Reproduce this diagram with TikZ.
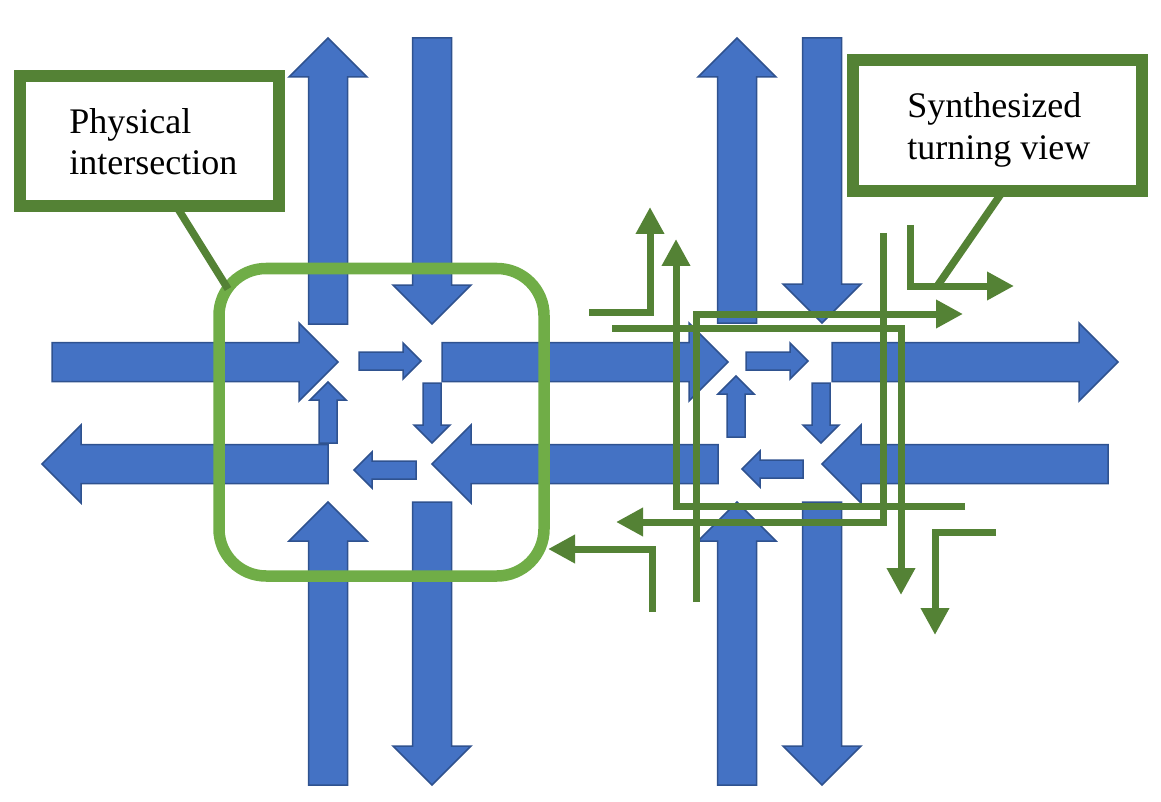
\documentclass[tikz,border=0pt]{standalone}
\usepackage{fontspec}
\setmainfont{Liberation Serif}
\usetikzlibrary{arrows.meta}
\definecolor{blueA}{HTML}{4472C4}
\definecolor{blueB}{HTML}{2F528F}
\definecolor{greenD}{HTML}{548235}
\definecolor{greenL}{HTML}{70AD47}
% block arrows: #1 tail, #2 tip, #3 centre line, #4 half shaft, #5 half head (= head length)
\newcommand\ArR[5]{\filldraw[barrow] (#1,#3-#4) -- (#2-#5,#3-#4) -- (#2-#5,#3-#5) -- (#2,#3) -- (#2-#5,#3+#5) -- (#2-#5,#3+#4) -- (#1,#3+#4) -- cycle;}
\newcommand\ArL[5]{\filldraw[barrow] (#1,#3-#4) -- (#2+#5,#3-#4) -- (#2+#5,#3-#5) -- (#2,#3) -- (#2+#5,#3+#5) -- (#2+#5,#3+#4) -- (#1,#3+#4) -- cycle;}
\newcommand\ArD[5]{\filldraw[barrow] (#3-#4,#1) -- (#3-#4,#2-#5) -- (#3-#5,#2-#5) -- (#3,#2) -- (#3+#5,#2-#5) -- (#3+#4,#2-#5) -- (#3+#4,#1) -- cycle;}
\newcommand\ArU[5]{\filldraw[barrow] (#3-#4,#1) -- (#3-#4,#2+#5) -- (#3-#5,#2+#5) -- (#3,#2) -- (#3+#5,#2+#5) -- (#3+#4,#2+#5) -- (#3+#4,#1) -- cycle;}
\begin{document}
\begin{tikzpicture}[x=0.5pt,y=-0.5pt,
  barrow/.style={fill=blueA, draw=blueB, line width=0.75pt, line join=miter},
  gpath/.style={draw=greenD, line width=3.5pt, -{Triangle[length=13.5pt,width=13.5pt]}},
  cbox/.style={draw=greenD, line width=6pt, fill=white, inner sep=0pt, outer sep=0pt},
  callout/.style={draw=greenD, line width=3.75pt},
  lbl/.style={font=\fontsize{18pt}{20.5pt}\selectfont, inner sep=0pt, anchor=base west},
  roundbox/.style={draw=greenL, line width=5.75pt, rounded corners=23.5pt}]
\useasboundingbox (0,0) rectangle (1161,802);
% ---- left intersection: big arrows
\ArU{324}{38}{328}{19.5}{39}
\ArD{38}{324}{432}{19.5}{39}
\ArR{52}{338}{362}{19.5}{39}
\ArL{328}{42}{464}{19.5}{39}
\ArU{785}{502}{328}{19.5}{39}
\ArD{502}{785}{432}{19.5}{39}
% ---- roads between intersections
\ArR{442}{728}{362}{19.5}{39}
\ArL{718}{432}{464}{19.5}{39}
% ---- right intersection: big arrows
\ArU{323}{38}{737}{19.5}{39}
\ArD{38}{323}{822}{19.5}{39}
\ArR{832}{1118}{362}{19.5}{39}
\ArL{1108}{822}{464}{19.5}{39}
\ArU{785}{502}{737}{19.5}{39}
\ArD{502}{785}{822}{19.5}{39}
% ---- small turning arrows, left
\ArR{359}{421}{361}{9}{18}
\ArD{383}{443}{432}{9}{18}
\ArL{416}{354}{470}{9}{18}
\ArU{443}{382}{328}{9}{18}
% ---- small turning arrows, right
\ArR{746}{808}{361}{9}{18}
\ArD{383}{443}{821}{9}{18}
\ArL{803}{742}{469}{9}{18}
\ArU{437}{376}{736}{9}{18}
% ---- physical intersection outline
\draw[roundbox] (219,268.5) rectangle (544,576);
% ---- synthesized turning view paths
\draw[gpath] (696,602) -- (696,314) -- (963,314);
\draw[gpath] (612,328) -- (901,328) -- (901,595);
\draw[gpath] (883,233) -- (883,522) -- (616,522);
\draw[gpath] (965,506) -- (676,506) -- (676,239);
\draw[gpath] (589,312) -- (650,312) -- (650,207);
\draw[gpath] (910,225) -- (910,286) -- (1014,286);
\draw[gpath] (996,532) -- (935,532) -- (935,635);
\draw[gpath] (652,612) -- (652,549) -- (548,549);
% ---- callouts
\node[cbox, minimum width=129.25pt, minimum height=65pt] (boxA) at (149.25,141) {};
\node[lbl] (tA1) at (69,134) {Physical};
\node[lbl] (tA2) at (69,175) {intersection};
\coordinate (cA) at (228,289);
\draw[callout] ([xshift=13.5pt]boxA.south) -- (cA);
\node[cbox, minimum width=144.5pt, minimum height=65.5pt] (boxB) at (997.5,125.5) {};
\node[lbl] (tB1) at (907,118) {Synthesized};
\node[lbl] (tB2) at (907,160) {turning view};
\coordinate (cB) at (938,285);
\draw[callout] ([xshift=2.75pt]boxB.south) -- (cB);
\end{tikzpicture}
\end{document}
